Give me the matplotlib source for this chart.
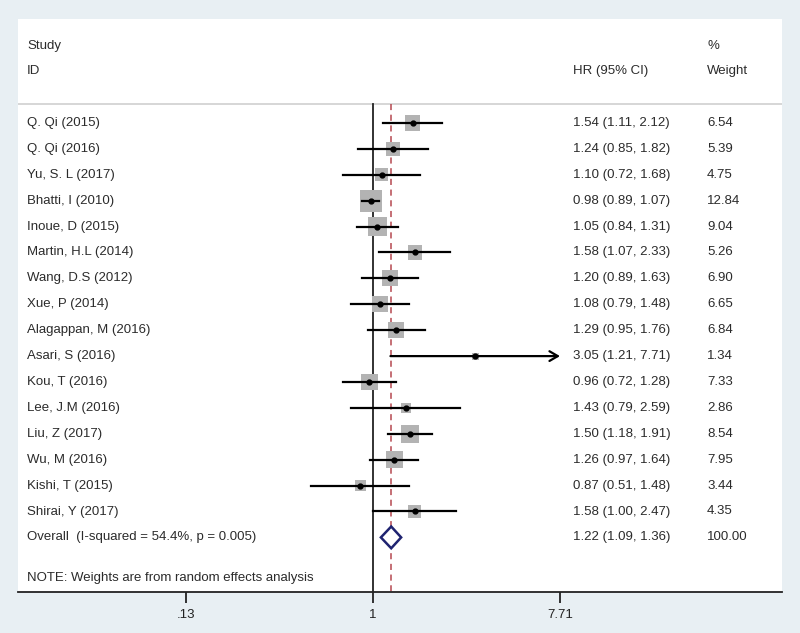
import matplotlib
matplotlib.use("Agg")
import matplotlib.pyplot as plt
import matplotlib.transforms as mtransforms
import numpy as np

plt.rcParams['font.family'] = ['Liberation Sans', 'DejaVu Sans']

studies = ["Q. Qi (2015)", "Q. Qi (2016)", "Yu, S. L (2017)", "Bhatti, I (2010)",
           "Inoue, D (2015)", "Martin, H.L (2014)", "Wang, D.S (2012)", "Xue, P (2014)",
           "Alagappan, M (2016)", "Asari, S (2016)", "Kou, T (2016)", "Lee, J.M (2016)",
           "Liu, Z (2017)", "Wu, M (2016)", "Kishi, T (2015)", "Shirai, Y (2017)"]
hr = [1.54, 1.24, 1.10, 0.98, 1.05, 1.58, 1.20, 1.08, 1.29, 3.05, 0.96, 1.43, 1.50, 1.26, 0.87, 1.58]
lo = [1.11, 0.85, 0.72, 0.89, 0.84, 1.07, 0.89, 0.79, 0.95, 1.21, 0.72, 0.79, 1.18, 0.97, 0.51, 1.00]
hi = [2.12, 1.82, 1.68, 1.07, 1.31, 2.33, 1.63, 1.48, 1.76, 7.71, 1.28, 2.59, 1.91, 1.64, 1.48, 2.47]
weights = [6.54, 5.39, 4.75, 12.84, 9.04, 5.26, 6.90, 6.65, 6.84, 1.34, 7.33, 2.86, 8.54, 7.95, 3.44, 4.35]
overall = (1.22, 1.09, 1.36)
overall_label = "Overall  (I-squared = 54.4%, p = 0.005)"
xticks = [0.13, 1, 7.71]
xtick_labels = [".13", "1", "7.71"]

W, H = 800, 633
fig = plt.figure(figsize=(W / 100, H / 100), dpi=100)
fig.patch.set_facecolor("#e8eff3")

# panel pixels
px_l, px_r, px_t, px_b = 18, 782, 19, 592
ax = fig.add_axes([px_l / W, 1 - px_b / H, (px_r - px_l) / W, (px_b - px_t) / H])
ax.set_facecolor("white")
ax.set_xscale("log")
# 1 -> x=373 px, 91.55 px per ln unit
scale = 91.55
ax.set_xlim(np.exp((px_l - 373) / scale), np.exp((px_r - 373) / scale))
row0, step = 123, 25.9
ax.set_ylim((px_b - row0) / step, (px_t - row0) / step)

for s in ["top", "left", "right"]:
    ax.spines[s].set_visible(False)
ax.spines["bottom"].set_color("#222222")
ax.spines["bottom"].set_linewidth(1.3)
ax.set_xticks(xticks)
ax.set_xticklabels(xtick_labels)
ax.xaxis.set_minor_locator(matplotlib.ticker.NullLocator())
ax.tick_params(axis="x", length=8, width=1.3, color="#222222", labelsize=9.5,
               labelcolor="#222222", pad=4)
ax.set_yticks([])

txt = "#2b2b2b"
fs = 9.5
col_id, col_hr, col_w = 0.012, 0.726, 0.902
trans = mtransforms.blended_transform_factory(ax.transAxes, ax.transData)
y_header_line = (104 - row0) / step
ax.axhline(y_header_line, color="#cfcfcf", lw=1.2)
ax.text(col_id, (46 - row0) / step, "Study", transform=trans, fontsize=fs, color=txt, va="center")
ax.text(col_id, (71 - row0) / step, "ID", transform=trans, fontsize=fs, color=txt, va="center")
ax.text(col_hr, (71 - row0) / step, "HR (95% CI)", transform=trans, fontsize=fs, color=txt, va="center")
ax.text(col_w, (46 - row0) / step, "%", transform=trans, fontsize=fs, color=txt, va="center")
ax.text(col_w, (71 - row0) / step, "Weight", transform=trans, fontsize=fs, color=txt, va="center")

# reference lines
ax.plot([1, 1], [y_header_line, ax.get_ylim()[0]], color="#222222", lw=1.3, zorder=2)
ax.plot([overall[0], overall[0]], [y_header_line, ax.get_ylim()[0]], color="#b5484f",
        lw=1.1, ls=(0, (4, 3)), zorder=2)

xmax_tick = xticks[-1]
for i, (name, h, l, u, w) in enumerate(zip(studies, hr, lo, hi, weights)):
    side_px = 22 * np.sqrt(w / 12.84)
    ax.scatter([h], [i], marker="s", s=(side_px * 0.72) ** 2, color="#b3b3b3",
               edgecolors="none", zorder=3)
    if u >= xmax_tick:
        ax.annotate("", xy=(xmax_tick, i), xytext=(l, i),
                    arrowprops=dict(arrowstyle="->,head_length=0.6,head_width=0.35",
                                    color="black", lw=1.6, shrinkA=0, shrinkB=0), zorder=4)
    else:
        ax.plot([l, u], [i, i], color="black", lw=1.6, zorder=4)
    ax.plot([h], [i], "o", color="black", ms=3.5, zorder=5)
    ax.text(col_id, i, name, transform=trans, fontsize=fs, color=txt, va="center")
    ax.text(col_hr, i, f"{h:.2f} ({l:.2f}, {u:.2f})", transform=trans, fontsize=fs,
            color=txt, va="center")
    ax.text(col_w, i, f"{w:.2f}", transform=trans, fontsize=fs, color=txt, va="center")

n = len(studies)
est, olo, ohi = overall
dh = 0.42
ax.fill([olo, est, ohi, est, olo], [n, n - dh, n, n + dh, n], facecolor="white",
        edgecolor="#1f2370", lw=1.8, zorder=5)
ax.text(col_id, n, overall_label, transform=trans, fontsize=fs, color=txt, va="center")
ax.text(col_hr, n, f"{est:.2f} ({olo:.2f}, {ohi:.2f})", transform=trans, fontsize=fs,
        color=txt, va="center")
ax.text(col_w, n, "100.00", transform=trans, fontsize=fs, color=txt, va="center")
ax.text(col_id, (578 - row0) / step, "NOTE: Weights are from random effects analysis",
        transform=trans, fontsize=fs, color=txt, va="center")

fig.savefig("out.png", dpi=100, facecolor=fig.get_facecolor())
